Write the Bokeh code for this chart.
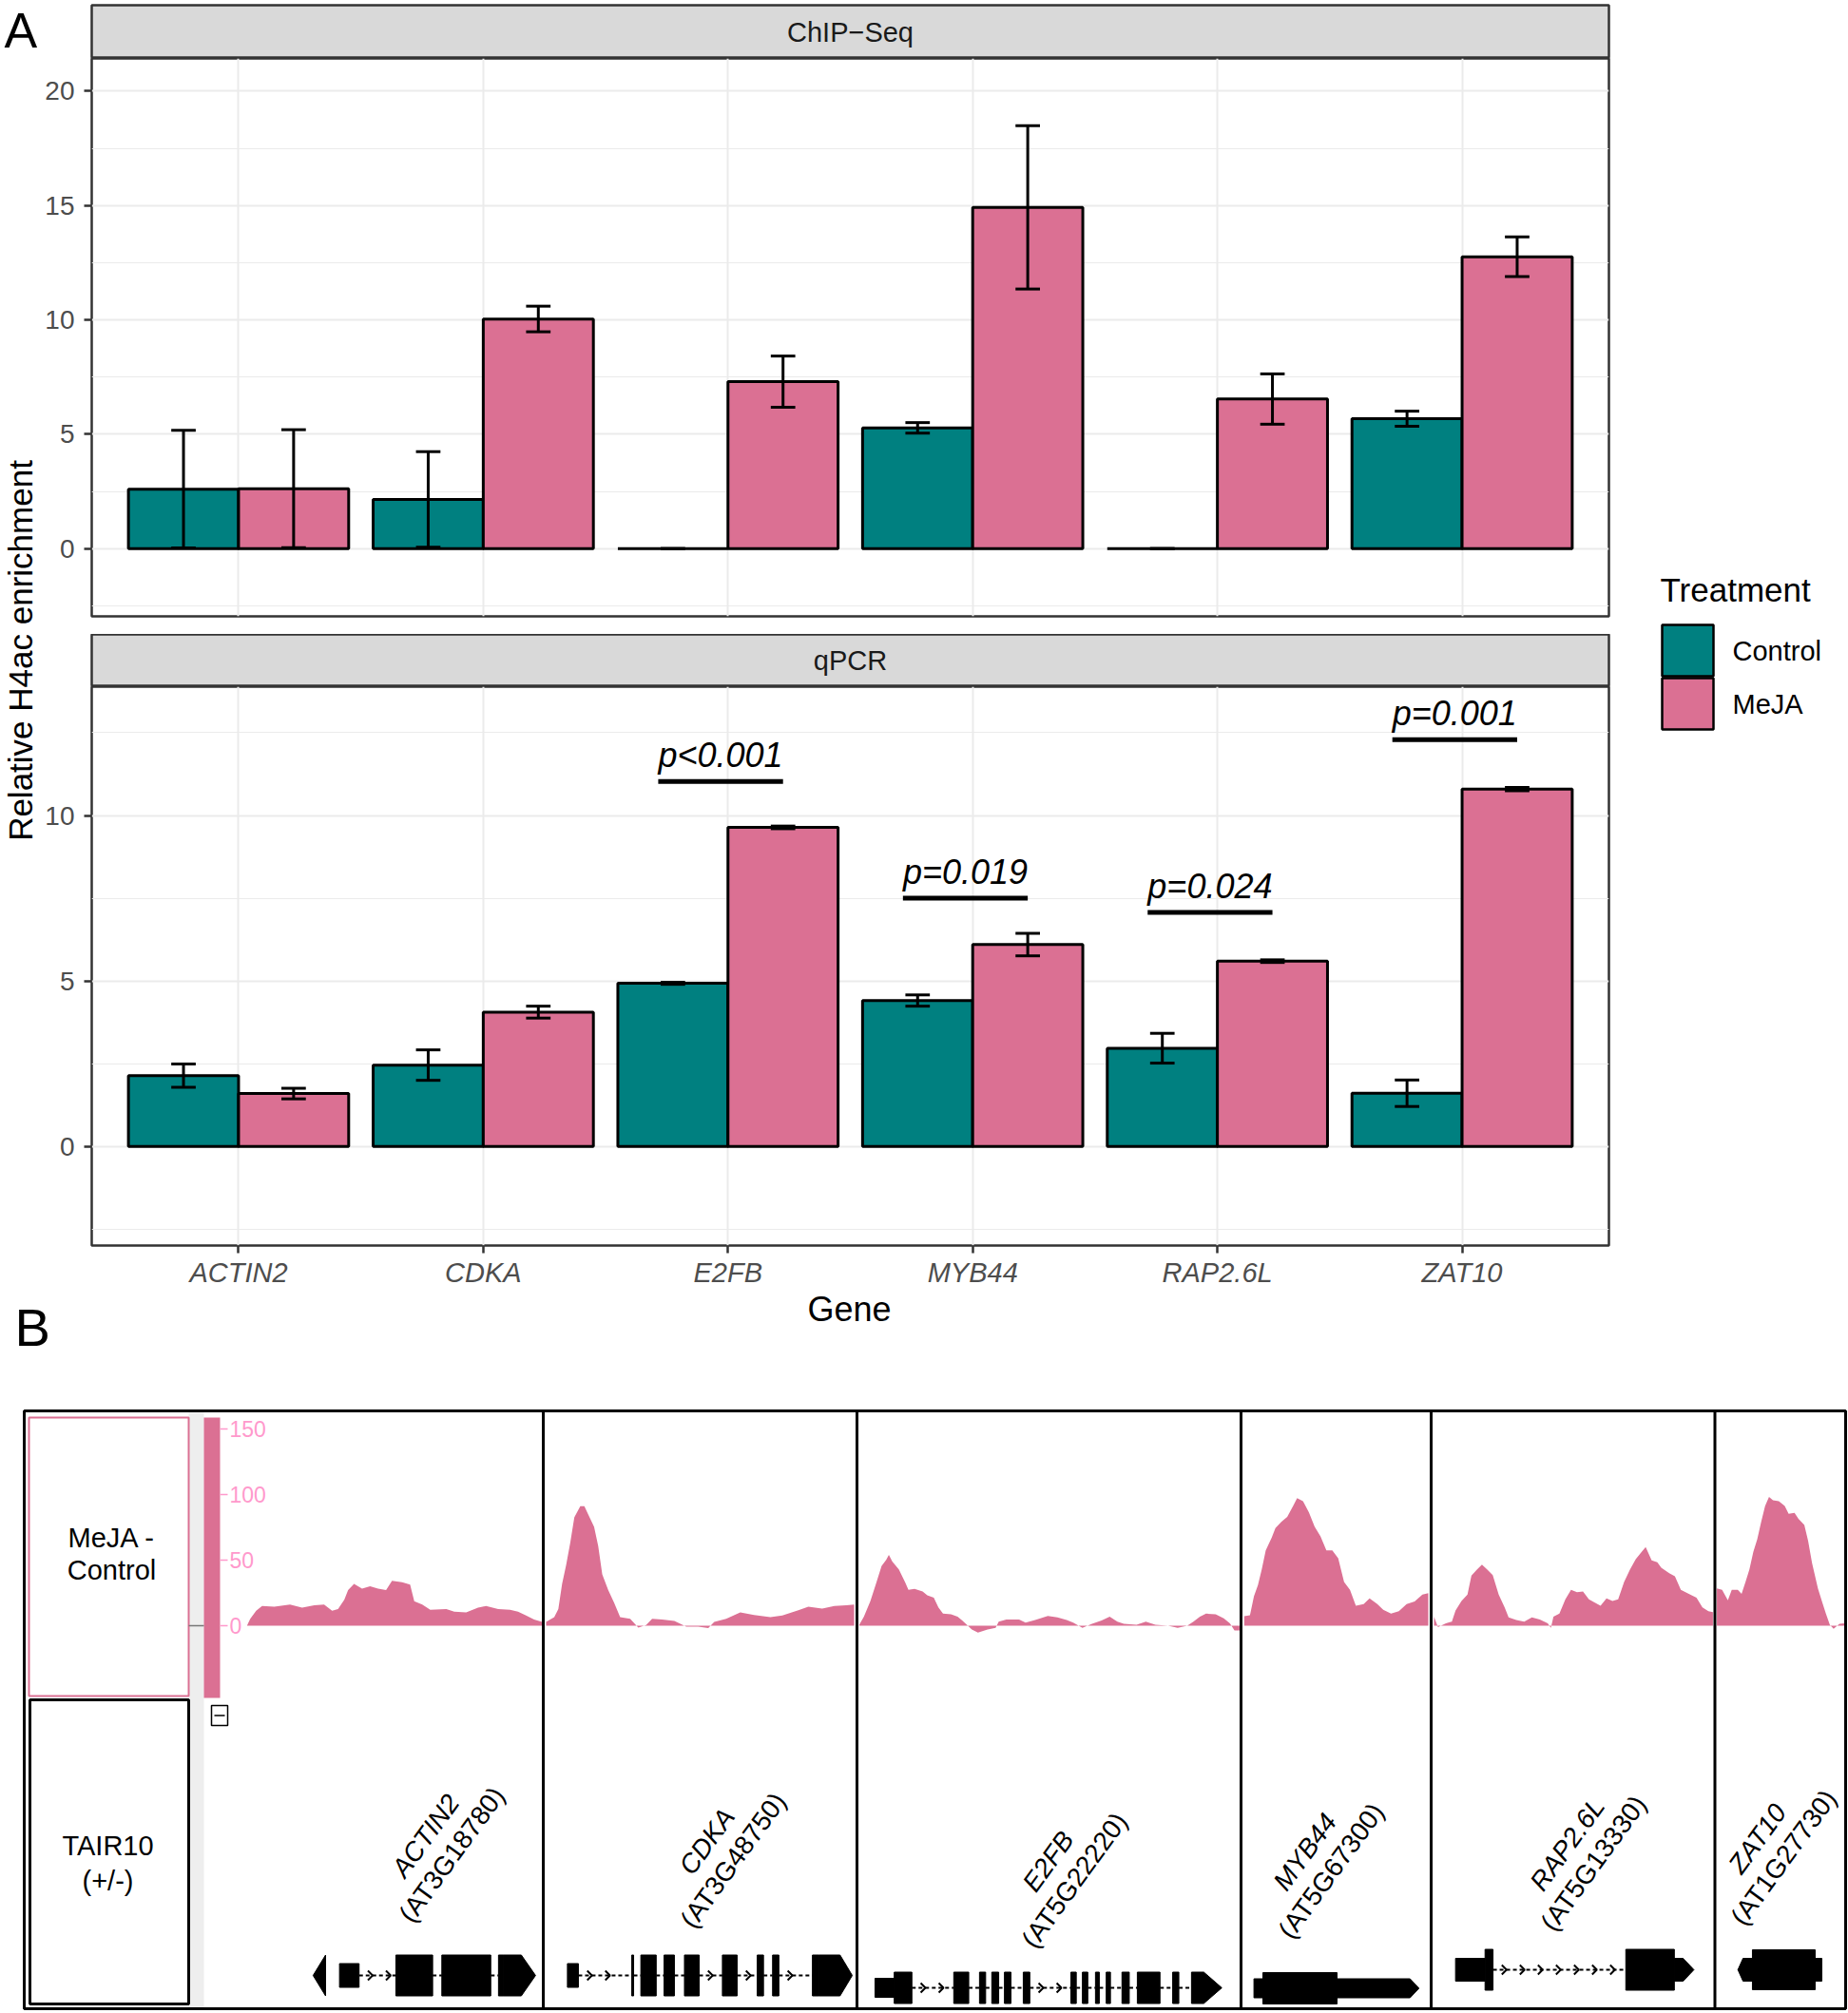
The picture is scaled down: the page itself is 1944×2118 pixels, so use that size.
import math
from bokeh.plotting import figure
from bokeh.models import ColumnDataSource, Range1d, FactorRange, FixedTicker, Label
from bokeh.transform import dodge
from bokeh.layouts import row, column
from bokeh.embed import file_html
from bokeh.resources import INLINE
from bokeh.core.properties import value

FONT = "Liberation Sans"
TEAL = "#008080"
PINK = "#DB7093"

# ---------------- data: panel A ----------------
genes = ["ACTIN2", "CDKA", "E2FB", "MYB44", "RAP2.6L", "ZAT10"]
treatments = ["Control", "MeJA"]
treatment_colors = [TEAL, PINK]

chip_control = [2.60, 2.15, 0.00, 5.28, 0.00, 5.68]
chip_control_err = [2.57, 2.09, 0.00, 0.23, 0.00, 0.33]
chip_meja = [2.62, 10.04, 7.30, 14.92, 6.54, 12.76]
chip_meja_err = [2.58, 0.56, 1.12, 3.57, 1.10, 0.87]

qpcr_control = [2.14, 2.46, 4.93, 4.41, 2.97, 1.61]
qpcr_control_err = [0.35, 0.46, 0.03, 0.17, 0.45, 0.40]
qpcr_meja = [1.60, 4.06, 9.64, 6.10, 5.60, 10.80]
qpcr_meja_err = [0.16, 0.18, 0.04, 0.34, 0.04, 0.05]

chip_ticks = [0, 5, 10, 15, 20]
chip_minor = [-2.5, 2.5, 7.5, 12.5, 17.5]
qpcr_ticks = [0, 5, 10]
qpcr_minor = [-2.5, 2.5, 7.5, 12.5]

pval_genes = ["E2FB", "MYB44", "RAP2.6L", "ZAT10"]
pval_text = ["p<0.001", "p=0.019", "p=0.024", "p=0.001"]
pval_y = [11.03, 7.50, 7.07, 12.29]

# ---------------- data: panel B (coverage, MeJA - Control) ----------------
# positions in percent of each gene window, values in coverage units
cov_actin2_pos = [0.1, 1.2, 3.2, 5.2, 9.3, 14.6, 18.7, 22.8, 26.1, 28.8, 30.8, 32.9, 34.2, 36.2, 38.9,
                  41.6, 44.3, 47.0, 49.0, 52.4, 55.1, 56.5, 59.2, 61.9, 67.3, 70.0, 74.0, 78.0, 80.7,
                  84.8, 88.8, 91.5, 94.2, 96.9, 99.6]
cov_actin2_val = [0, 5.3, 11.4, 15.0, 14.5, 16.2, 13.8, 15.5, 16.2, 11.4, 12.6, 19.8, 27.1, 31.9, 28.3,
                  30.0, 28.3, 27.1, 34.3, 33.1, 31.4, 18.6, 16.2, 12.1, 12.6, 10.6, 10.1, 13.8, 15.0,
                  12.6, 12.1, 10.6, 7.7, 4.8, 2.9]
cov_cdka_pos = [0.9, 3.5, 4.8, 6.0, 7.3, 8.6, 9.9, 11.8, 13.1, 14.3, 16.2, 17.5, 18.8, 20.7, 22.6,
                24.5, 27.7, 30.3, 32.8, 34.7, 37.9, 41.8, 45.6, 49.4, 52.6, 54.5, 58.3, 62.8, 67.2,
                72.4, 76.2, 81.3, 84.5, 88.9, 92.8, 96.6, 99.1]
cov_cdka_val = [2.9, 6.5, 12.6, 31.9, 46.4, 63.3, 82.6, 91.1, 91.1, 85.0, 75.4, 60.9, 39.1, 27.1, 17.4,
                6.5, 5.3, -1.4, 0.5, 5.3, 4.8, 3.6, -0.7, -0.7, -1.9, 2.9, 5.3, 10.1, 8.2,
                6.5, 7.7, 11.8, 14.5, 13.0, 15.0, 15.5, 16.2]
cov_e2fb_pos = [0.6, 1.8, 3.5, 5.1, 6.4, 7.6, 8.3, 9.2, 10.9, 12.5, 13.4, 15.0, 17.1, 18.3, 20.0,
                21.2, 22.4, 24.5, 26.2, 27.4, 28.6, 29.9, 31.5, 34.0, 36.1, 36.9, 38.9, 42.2, 43.9,
                46.4, 49.7, 52.2, 54.6, 56.3, 58.7, 61.2, 63.7, 65.8, 67.8, 69.5, 72.8, 75.2, 77.7,
                81.0, 83.5, 86.0, 87.6, 89.3, 90.9, 93.4, 95.5, 97.1, 98.3, 99.6]
cov_e2fb_val = [0.7, 6.8, 18.8, 33.3, 45.4, 50.2, 53.9, 49.0, 43.0, 33.3, 27.3, 28.0, 26.1, 23.2, 21.3,
                14.0, 9.2, 8.7, 6.8, 3.9, 0.7, -2.9, -5.3, -2.9, -1.7, 3.1, 4.8, 4.8, 2.4,
                4.3, 7.5, 6.3, 4.3, 2.4, -1.7, 1.4, 3.9, 6.8, 3.1, 1.4, 0.7, 3.1, 0.7,
                0.0, -1.7, 0.0, 3.1, 6.8, 9.2, 8.7, 5.6, 1.9, -3.6, -3.6]
cov_myb44_pos = [1.7, 4.7, 6.8, 8.9, 10.9, 13.0, 16.1, 18.1, 21.2, 24.3, 27.4, 29.5, 32.6, 35.7, 38.7,
                 41.8, 44.9, 48.0, 51.1, 54.2, 57.3, 60.4, 64.5, 67.6, 71.7, 74.8, 78.9, 83.0, 87.1,
                 91.3, 95.4, 98.5]
cov_myb44_val = [7.2, 8.0, 22.5, 30.9, 43.0, 57.5, 67.1, 74.4, 79.2, 82.9, 91.3, 97.3, 94.9, 86.5, 75.6,
                 68.1, 57.5, 57.5, 51.4, 33.3, 27.3, 15.2, 16.4, 20.8, 16.4, 12.1, 9.2, 11.1, 16.4,
                 18.4, 23.7, 24.9]
cov_rap_pos = [1.0, 2.4, 5.2, 7.3, 8.6, 10.7, 12.8, 14.2, 16.2, 17.9, 19.7, 21.7, 23.8, 25.9, 27.3,
               30.0, 32.8, 35.5, 38.3, 41.1, 42.2, 43.1, 45.2, 47.3, 49.3, 51.4, 53.5, 55.6, 57.7,
               59.7, 61.8, 63.9, 65.9, 68.0, 70.1, 72.1, 74.2, 75.6, 77.7, 79.7, 81.1, 83.9, 85.9,
               88.0, 90.8, 93.5, 95.6, 97.7, 99.3]
cov_rap_val = [6.8, -1.0, 1.9, 3.1, 11.6, 18.8, 23.7, 38.2, 43.0, 46.6, 43.0, 38.6, 23.7, 14.0, 6.3,
               4.3, 3.1, 6.3, 4.8, 1.9, -1.7, 6.8, 9.2, 20.1, 27.3, 25.6, 26.1, 20.1, 17.6,
               15.2, 20.8, 18.8, 20.1, 33.3, 43.0, 50.7, 56.3, 59.9, 49.8, 48.3, 44.2, 40.1, 37.7,
               27.3, 24.2, 21.3, 14.0, 11.1, 10.4]
cov_zat10_pos = [1.5, 5.5, 9.9, 12.9, 17.5, 20.4, 23.4, 26.4, 29.4, 32.4, 35.4, 38.4, 41.4, 44.4, 48.9,
                 53.4, 56.4, 60.9, 63.9, 68.4, 71.3, 74.3, 78.8, 81.8, 84.9, 87.9, 90.8, 95.3, 99.2]
cov_zat10_val = [28.5, 27.3, 19.3, 27.3, 27.3, 24.2, 33.3, 43.0, 56.3, 65.9, 79.2, 91.3, 98.1, 95.7, 94.9,
                 91.3, 85.3, 86.0, 81.6, 76.8, 64.7, 47.8, 28.5, 18.8, 9.2, 0.7, -2.4, 1.4, 1.9]

cov_ticks = [0, 50, 100, 150]

gene_ids = ["AT3G18780", "AT3G48750", "AT5G22220", "AT5G67300", "AT5G13330", "AT1G27730"]

# gene models: exons (percent of window) and arrow ends (far end, near end, tip, kind)
actin2_exon_start = [31.3, 50.3, 65.8, 84.9]
actin2_exon_end = [37.9, 62.7, 82.3, 86.4]
actin2_exon_kind = ["utr", "cds", "cds", "cds"]
actin2_arrows = [(86.4, 92.6, 97.4, "cds")]
actin2_markers = [(26.6, 26.6, 22.4, "cds")]

cdka_exon_start = [7.7, 28.2, 31.1, 38.5, 45.0, 57.1, 68.2, 73.1, 85.8]
cdka_exon_end = [11.2, 28.8, 36.0, 41.8, 49.7, 61.8, 70.2, 75.1, 87.8]
cdka_exon_kind = ["utr", "cds", "cds", "cds", "cds", "cds", "cds", "cds", "cds"]
cdka_arrows = [(87.8, 94.6, 98.5, "cds")]

e2fb_exon_start = [4.7, 9.7, 25.2, 31.9, 35.1, 38.4, 43.3, 55.7, 58.7, 62.1, 64.9, 69.0, 73.0, 82.2]
e2fb_exon_end = [9.7, 14.3, 29.1, 33.5, 36.9, 40.1, 45.0, 57.1, 60.1, 63.1, 66.0, 70.9, 78.9, 83.8]
e2fb_exon_kind = ["utr"] + ["cds"] * 13
e2fb_arrows = [(87.1, 90.3, 95.0, "cds")]

myb44_exon_start = [6.8, 11.5]
myb44_exon_end = [11.5, 50.5]
myb44_exon_kind = ["utr", "cds"]
myb44_arrows = [(50.5, 88.9, 93.6, "utr")]

rap_exon_start = [8.6, 19.0, 68.6]
rap_exon_end = [19.0, 21.8, 85.7]
rap_exon_kind = ["utr", "cds", "cds"]
rap_arrows = [(85.7, 88.8, 92.6, "utr")]

zat10_exon_start = [28.7, 76.7]
zat10_exon_end = [76.7, 81.8]
zat10_exon_kind = ["cds", "utr"]
zat10_arrows = [(28.7, 21.5, 17.6, "utr")]

# ---------------- styling ----------------
GRID = "#EBEBEB"
BORDER = "#333333"


def base_fig(width, height, xr, yr, **kw):
    args = dict(width=width, height=height, x_range=xr, y_range=yr,
                output_backend="svg", toolbar_location=None,
                min_border_left=0, min_border_right=0, min_border_top=0, min_border_bottom=0)
    args.update(kw)
    return figure(**args)


def strip_fig(label, height, top=0):
    s = base_fig(1650, height, Range1d(0, 1), Range1d(0, 1),
                 x_axis_location=None, y_axis_location=None,
                 min_border_left=50, min_border_right=2, min_border_top=top,
                 background_fill_color="#D9D9D9", outline_line_color=BORDER, outline_line_width=2.5)
    s.xgrid.visible = False
    s.ygrid.visible = False
    s.text(x=[0.5], y=[0.5], text=[label], text_align="center", text_baseline="middle",
           text_font=value(FONT), text_font_size="29px", text_color="#1A1A1A")
    return s


def panel_fig(height, yr, ticks, minor, control, control_err, meja, meja_err, show_x, bottom):
    xr = FactorRange(*genes, range_padding=0.1, range_padding_units="absolute")
    p = base_fig(1650, height, xr, Range1d(*yr),
                 x_axis_location="below" if show_x else None,
                 min_border_left=50, min_border_right=2, min_border_bottom=bottom,
                 outline_line_color=BORDER, outline_line_width=2.5)
    t = FixedTicker(ticks=ticks, minor_ticks=minor)
    p.yaxis.ticker = t
    p.ygrid.ticker = t
    for ax in p.yaxis:
        ax.major_label_text_font = FONT
        ax.major_label_text_font_size = "28px"
        ax.major_label_text_color = "#4D4D4D"
        ax.major_label_standoff = 10
        ax.major_tick_out = 8
        ax.major_tick_in = 0
        ax.major_tick_line_width = 2.5
        ax.major_tick_line_color = BORDER
        ax.minor_tick_line_color = None
        ax.axis_line_color = None
    if show_x:
        for ax in p.xaxis:
            ax.major_label_text_font = FONT
            ax.major_label_text_font_style = "italic"
            ax.major_label_text_font_size = "29px"
            ax.major_label_text_color = "#4D4D4D"
            ax.major_label_standoff = 4
            ax.major_tick_out = 8
            ax.major_tick_in = 0
            ax.major_tick_line_width = 2.5
            ax.major_tick_line_color = BORDER
            ax.axis_line_color = None
    p.xgrid.grid_line_color = GRID
    p.xgrid.grid_line_width = 2
    p.ygrid.grid_line_color = GRID
    p.ygrid.grid_line_width = 2
    p.ygrid.minor_grid_line_color = GRID
    p.ygrid.minor_grid_line_width = 1.2

    src = ColumnDataSource(dict(
        gene=genes, control=control, meja=meja,
        c_lo=[v - e for v, e in zip(control, control_err)],
        c_hi=[v + e for v, e in zip(control, control_err)],
        m_lo=[v - e for v, e in zip(meja, meja_err)],
        m_hi=[v + e for v, e in zip(meja, meja_err)]))
    for off, col, fill in [(-0.225, "control", treatment_colors[0]), (0.225, "meja", treatment_colors[1])]:
        p.vbar(x=dodge("gene", off, range=xr), top=col, width=0.45, bottom=0,
               fill_color=fill, line_color="black", line_width=3, source=src)
    for off, lo, hi in [(-0.225, "c_lo", "c_hi"), (0.225, "m_lo", "m_hi")]:
        p.segment(x0=dodge("gene", off, range=xr), x1=dodge("gene", off, range=xr),
                  y0=lo, y1=hi, line_color="black", line_width=3, source=src)
        for yy in (lo, hi):
            p.segment(x0=dodge("gene", off - 0.05, range=xr), x1=dodge("gene", off + 0.05, range=xr),
                      y0=yy, y1=yy, line_color="black", line_width=3, source=src)
    return p, xr


strip1 = strip_fig("ChIP\u2212Seq", 61, top=5)
panel1, xr1 = panel_fig(606, (-2.96, 21.43), chip_ticks, chip_minor,
                        chip_control, chip_control_err, chip_meja, chip_meja_err, False, 19)
strip2 = strip_fig("qPCR", 55)
panel2, xr2 = panel_fig(636, (-2.99, 13.89), qpcr_ticks, qpcr_minor,
                        qpcr_control, qpcr_control_err, qpcr_meja, qpcr_meja_err, True, 48)

psrc = ColumnDataSource(dict(gene=pval_genes, text=pval_text, y=pval_y,
                             ty=[v + 0.8 for v in pval_y]))
panel2.segment(x0=dodge("gene", -0.285, range=xr2), x1=dodge("gene", 0.225, range=xr2),
               y0="y", y1="y", line_color="black", line_width=5, source=psrc)
panel2.text(x=dodge("gene", -0.03, range=xr2), y="ty", text="text", text_align="center",
            text_baseline="middle", text_font=value(FONT), text_font_style="italic",
            text_font_size="36px", text_color="black", source=psrc)

# y-axis title + "A"  (coordinates = page pixels)
ylab = base_fig(44, 1358, Range1d(0, 44), Range1d(1358, 0),
                x_axis_location=None, y_axis_location=None, outline_line_color=None)
ylab.xgrid.visible = False
ylab.ygrid.visible = False
ylab.text(x=[4], y=[31], text=["A"], text_align="left", text_baseline="middle",
          text_font=value(FONT), text_font_size="52px", text_color="black")
ylab.text(x=[21], y=[684], text=["Relative H4ac enrichment"], angle=math.pi / 2,
          text_align="center", text_baseline="middle",
          text_font=value(FONT), text_font_size="35px", text_color="black")

# legend
lf = base_fig(250, 1358, Range1d(1694, 1944), Range1d(1358, 0),
              x_axis_location=None, y_axis_location=None, outline_line_color=None)
lf.xgrid.visible = False
lf.ygrid.visible = False
lsrc = ColumnDataSource(dict(label=treatments, color=treatment_colors,
                             top=[657, 713], bottom=[711, 767], ty=[684, 740]))
lf.quad(left=1748, right=1802, top="top", bottom="bottom", fill_color="color",
        line_color="black", line_width=2.5, source=lsrc)
lf.text(x=1822, y="ty", text="label", text_align="left", text_baseline="middle",
        text_font=value(FONT), text_font_size="29px", text_color="black", source=lsrc)
lf.text(x=[1746], y=[620], text=["Treatment"], text_align="left", text_baseline="middle",
        text_font=value(FONT), text_font_size="35px", text_color="black")

# ---------------- panel B ----------------
windows = {"ACTIN2": (259, 571), "CDKA": (571, 901), "E2FB": (901, 1305),
           "MYB44": (1305, 1505), "RAP2.6L": (1505, 1803.5), "ZAT10": (1803.5, 1941)}
BASE_Y = 1710.0
PX_PER_UNIT = 1.38
X0, X1, YTOP, YBOT = 0, 1944, 1358, 2116

pb = base_fig(1944, YBOT - YTOP, Range1d(X0, X1), Range1d(YBOT, YTOP),
              x_axis_location=None, y_axis_location=None, outline_line_color=None)
pb.xgrid.visible = False
pb.ygrid.visible = False
pb.extra_y_ranges = {"cov": Range1d((BASE_Y - YBOT) / PX_PER_UNIT, (BASE_Y - YTOP) / PX_PER_UNIT)}
pb.extra_x_ranges = {g: Range1d((X0 - L) / (R - L) * 100, (X1 - L) / (R - L) * 100)
                     for g, (L, R) in windows.items()}

pb.text(x=[15], y=[1396], text=["B"], text_align="left", text_baseline="middle",
        text_font=value(FONT), text_font_size="56px", text_color="black")
pb.add_layout(Label(x=893, y=1377, text="Gene", text_align="center", text_baseline="middle",
                    text_font=FONT, text_font_size="36px", text_color="black"))

# frames
pb.quad(left=198, right=214, top=1486, bottom=2112, fill_color="#EEEEEE", line_color=None)
pb.quad(left=30, right=198, top=1491, bottom=1784, fill_color=None, line_color=PINK, line_width=2)
pb.quad(left=31, right=198, top=1788, bottom=2108, fill_color=None, line_color="black", line_width=3)
pb.quad(left=214, right=231, top=1491, bottom=1786, fill_color=PINK, line_color=None)
pb.segment(x0=[198], x1=[214], y0=[1710], y1=[1710], line_color="#777777", line_width=1.5)
pb.quad(left=222, right=239, top=1794, bottom=1815, fill_color="white", line_color="black", line_width=1.5)
pb.segment(x0=[225], x1=[236], y0=[1804.5], y1=[1804.5], line_color="black", line_width=1.5)

pb.text(x=[117, 117, 113, 113], y=[1617, 1651, 1941, 1978], text=["MeJA -", "Control", "TAIR10", "(+/-)"],
        text_align="center", text_baseline="middle", text_font=value(FONT), text_font_size="29px",
        text_color="black")

# coverage scale
pb.segment(x0=231, x1=239, y0=cov_ticks, y1=cov_ticks, y_range_name="cov",
           line_color="#FF99CC", line_width=1.5)
pb.text(x=241, y=cov_ticks, text=[str(t) for t in cov_ticks], y_range_name="cov",
        text_align="left", text_baseline="middle", text_font=value(FONT),
        text_font_size="23px", text_color="#FF99CC")

coverage = {"ACTIN2": (cov_actin2_pos, cov_actin2_val), "CDKA": (cov_cdka_pos, cov_cdka_val),
            "E2FB": (cov_e2fb_pos, cov_e2fb_val), "MYB44": (cov_myb44_pos, cov_myb44_val),
            "RAP2.6L": (cov_rap_pos, cov_rap_val), "ZAT10": (cov_zat10_pos, cov_zat10_val)}
for g in genes:
    pos, val = coverage[g]
    pb.varea(x=pos, y1=[0] * len(pos), y2=val, x_range_name=g, y_range_name="cov",
             fill_color=PINK)

# gene models
models = {
    "ACTIN2": (actin2_exon_start, actin2_exon_end, actin2_exon_kind, actin2_arrows, actin2_markers),
    "CDKA": (cdka_exon_start, cdka_exon_end, cdka_exon_kind, cdka_arrows, []),
    "E2FB": (e2fb_exon_start, e2fb_exon_end, e2fb_exon_kind, e2fb_arrows, []),
    "MYB44": (myb44_exon_start, myb44_exon_end, myb44_exon_kind, myb44_arrows, []),
    "RAP2.6L": (rap_exon_start, rap_exon_end, rap_exon_kind, rap_arrows, []),
    "ZAT10": (zat10_exon_start, zat10_exon_end, zat10_exon_kind, zat10_arrows, []),
}
model_y = {"ACTIN2": (2078, 21.5, 12.5), "CDKA": (2078, 21.5, 12.5), "E2FB": (2091, 16.5, 10),
           "MYB44": (2091.5, 16.5, 10), "RAP2.6L": (2072, 21.5, 12), "ZAT10": (2072, 21, 12)}

for g in genes:
    starts, ends, kinds, arrows, markers = models[g]
    cy, hc, hu = model_y[g]
    half = {"cds": hc, "utr": hu}
    L, R = windows[g]
    W = R - L
    feats = sorted([(s, e) for s, e in zip(starts, ends)] +
                   [(min(a, b, t), max(a, b, t)) for a, b, t, k in arrows])
    chev_x, chev_y = [], []
    for (s0, e0), (s1, e1) in zip(feats[:-1], feats[1:]):
        if s1 - e0 > 0.2:
            pb.line(x=[e0, s1], y=[cy, cy], x_range_name=g, line_color="black",
                    line_width=2, line_dash="4 3")
            step = 19.0 / W * 100
            depth = 5.0 / W * 100
            n = int((s1 - e0) / step)
            for i in range(n):
                cx = e0 + step * (i + 0.75)
                chev_x.append([cx - depth, cx, cx - depth])
                chev_y.append([cy - 5, cy, cy + 5])
    if chev_x:
        pb.multi_line(xs=chev_x, ys=chev_y, x_range_name=g, line_color="black", line_width=2)
    pb.quad(left=starts, right=ends, top=[cy - half[k] for k in kinds],
            bottom=[cy + half[k] for k in kinds], x_range_name=g,
            fill_color="black", line_color="black", line_width=1)
    polys_x, polys_y = [], []
    for a, b, t, k in list(arrows) + list(markers):
        h = half[k]
        polys_x.append([a, b, t, b, a])
        polys_y.append([cy - h, cy - h, cy, cy + h, cy + h])
    pb.patches(xs=polys_x, ys=polys_y, x_range_name=g, fill_color="black",
               line_color="black", line_width=1)

# gene labels (rotated)
label_centers = {"ACTIN2": (461, 1941), "CDKA": (757, 1947), "E2FB": (1116, 1968),
                 "MYB44": (1386, 1958), "RAP2.6L": (1662, 1950), "ZAT10": (1862, 1944)}
ANG = math.radians(54)
dx, dy = 17 * math.sin(ANG), 17 * math.cos(ANG)
name_x = [label_centers[g][0] - dx for g in genes]
name_y = [label_centers[g][1] - dy for g in genes]
id_x = [label_centers[g][0] + dx for g in genes]
id_y = [label_centers[g][1] + dy for g in genes]
pb.text(x=name_x, y=name_y, text=genes, angle=ANG, text_align="center", text_baseline="middle",
        text_font=value(FONT), text_font_style="italic", text_font_size="28px", text_color="black")
pb.text(x=id_x, y=id_y, text=["(" + i + ")" for i in gene_ids], angle=ANG, text_align="center",
        text_baseline="middle", text_font=value(FONT), text_font_size="28px", text_color="black")

# separators and outer box
pb.segment(x0=[571, 901, 1305, 1505, 1803.5], x1=[571, 901, 1305, 1505, 1803.5],
           y0=1484, y1=2113, line_color="black", line_width=3)
pb.quad(left=25, right=1941, top=1484, bottom=2113, fill_color=None, line_color="black", line_width=3)

layout = column(row(ylab, column(strip1, panel1, strip2, panel2), lf), pb)

with open("out.html", "w") as f:
    f.write(file_html(layout, INLINE, title="H4ac enrichment"))
